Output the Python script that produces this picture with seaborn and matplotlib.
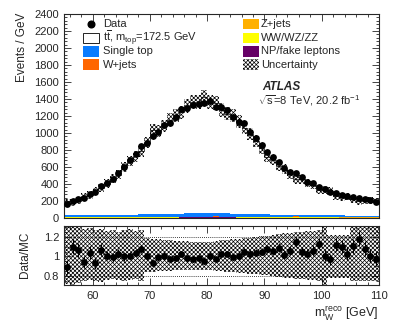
import numpy as np
import pandas as pd
import matplotlib
matplotlib.use("Agg")
import matplotlib.pyplot as plt
from matplotlib.patches import Rectangle
from matplotlib.ticker import MultipleLocator
import seaborn as sns

sns.set_style("ticks")
plt.rcParams['font.family'] = ['Liberation Sans', 'DejaVu Sans']
plt.rcParams['mathtext.fontset'] = 'custom'
plt.rcParams['mathtext.rm'] = 'Liberation Sans'
plt.rcParams['mathtext.it'] = 'Liberation Sans:italic'
plt.rcParams['mathtext.bf'] = 'Liberation Sans:bold'
plt.rcParams['hatch.linewidth'] = 0.5

HATCH = 'xxxxxxxx'

# binning: 1 GeV bins from 55 to 110 GeV
edges = np.arange(55, 111, 1)
centers = edges[:-1] + 0.5

# data (events / GeV)
data = [165, 200, 220, 239, 282, 302, 376, 408, 459, 526,
        596, 682, 753, 847, 886, 965, 1015, 1094, 1121, 1185,
        1279, 1290, 1329, 1341, 1350, 1375, 1309, 1310, 1265, 1192,
        1133, 1114, 1015, 937, 859, 780, 721, 662, 584, 545,
        526, 479, 427, 408, 368, 337, 309, 290, 270, 259,
        243, 231, 220, 212, 188]

# data / MC ratio
ratio = [0.89, 1.10, 1.07, 0.94, 1.04, 0.93, 1.07, 1.01, 0.99, 1.03,
         1.00, 1.01, 1.04, 1.08, 1.00, 0.93, 0.99, 1.01, 0.97, 0.98,
         1.03, 0.98, 0.97, 0.98, 0.95, 1.01, 0.97, 1.03, 1.03, 0.99,
         1.00, 1.05, 1.03, 1.04, 1.05, 1.08, 1.06, 1.09, 1.02, 1.06,
         1.15, 1.05, 1.03, 1.06, 1.13, 1.01, 0.97, 1.12, 1.10, 1.03,
         1.11, 1.18, 1.08, 1.01, 0.97]

# backgrounds (events / GeV)
single_top = [18, 19, 19, 20, 21, 21, 22, 23, 23, 24,
              25, 26, 26, 27, 28, 29, 30, 31, 32, 34,
              35, 36, 38, 40, 39, 41, 40, 38, 36, 35,
              34, 33, 31, 30, 28, 27, 26, 25, 24, 23,
              22, 22, 21, 20, 20, 19, 19, 18, 18, 17,
              17, 16, 16, 16, 15]
w_jets = [5, 5, 5, 5, 5, 5, 5, 6, 5, 6,
          6, 6, 6, 6, 6, 6, 6, 7, 6, 7,
          7, 7, 7, 7, 7, 7, 12, 7, 7, 7,
          7, 7, 6, 6, 6, 6, 6, 6, 6, 6,
          11, 6, 5, 5, 5, 5, 5, 5, 5, 5,
          5, 5, 5, 4, 4]
z_jets = [2, 2, 2, 2, 2, 2, 3, 3, 3, 3,
          3, 3, 3, 3, 3, 3, 3, 3, 3, 3,
          3, 3, 3, 3, 3, 3, 3, 3, 3, 3,
          3, 3, 3, 3, 3, 3, 2, 2, 2, 2,
          2, 2, 2, 2, 2, 2, 2, 2, 2, 2,
          2, 2, 2, 2, 2]
diboson = [1] * 55
fakes = [5, 5, 5, 5, 5, 5, 5, 5, 5, 5,
         5, 5, 5, 5, 5, 5, 5, 5, 5, 5,
         6, 6, 6, 6, 6, 6, 6, 6, 6, 6,
         5, 5, 5, 5, 5, 5, 5, 5, 5, 5,
         5, 5, 5, 5, 5, 5, 5, 5, 4, 4,
         4, 4, 4, 4, 4]

# uncertainty band, main panel (events / GeV)
unc_main = [40, 40, 42, 42, 44, 45, 48, 50, 52, 55,
            58, 60, 62, 65, 68, 70, 72, 74, 75, 76,
            78, 80, 80, 82, 82, 82, 80, 80, 78, 76,
            75, 74, 72, 70, 68, 65, 62, 60, 58, 56,
            54, 52, 50, 48, 47, 46, 45, 44, 43, 42,
            42, 41, 40, 40, 40]
# uncertainty band, ratio panel (relative up / down)
unc_up = [0.32, 0.33, 0.30, 0.28, 0.29, 0.27, 0.28, 0.26, 0.27, 0.25,
          0.27, 0.28, 0.26, 0.27, 0.19, 0.18, 0.18, 0.17, 0.17, 0.16,
          0.16, 0.16, 0.15, 0.15, 0.15, 0.15, 0.16, 0.17, 0.17, 0.18,
          0.18, 0.19, 0.19, 0.20, 0.21, 0.21, 0.22, 0.23, 0.24, 0.24,
          0.25, 0.25, 0.26, 0.26, 0.27, 0.33, 0.22, 0.22, 0.22, 0.22,
          0.30, 0.30, 0.31, 0.30, 0.30]
unc_down = [0.28, 0.29, 0.27, 0.25, 0.24, 0.25, 0.26, 0.24, 0.23, 0.24,
            0.25, 0.24, 0.23, 0.25, 0.16, 0.16, 0.15, 0.15, 0.15, 0.14,
            0.14, 0.14, 0.14, 0.14, 0.14, 0.14, 0.15, 0.15, 0.16, 0.16,
            0.17, 0.17, 0.18, 0.18, 0.19, 0.19, 0.20, 0.21, 0.22, 0.22,
            0.23, 0.23, 0.24, 0.24, 0.25, 0.30, 0.22, 0.22, 0.22, 0.22,
            0.25, 0.25, 0.25, 0.25, 0.25]

df = pd.DataFrame({'mW': centers, 'data': data, 'ratio': ratio})
df['mc'] = df['data'] / df['ratio']
df['err'] = np.sqrt(df['data'])
df['ratio_err'] = df['err'] / df['mc']

bkgs = [('NP/fake leptons', fakes, '#660066'),
        ('WW/WZ/ZZ', diboson, '#ffff00'),
        ('Z+jets', z_jets, '#ffb000'),
        ('W+jets', w_jets, '#ff6600'),
        ('Single top', single_top, '#0a7cff')]

fig = plt.figure(figsize=(3.99, 3.28), dpi=100)
ax = fig.add_axes([64/399, 1-218/328, 315/399, 204/328])
axr = fig.add_axes([64/399, 1-285/328, 315/399, 59/328], sharex=ax)

# stacked backgrounds
bottom = np.zeros(len(centers))
for name, vals, col in bkgs:
    vals = np.asarray(vals, dtype=float)
    ax.stairs(bottom + vals, edges, baseline=bottom, fill=True, color=col, lw=0)
    bottom = bottom + vals
# ttbar on top (white with outline)
mc = df['mc'].values
ax.stairs(mc, edges, baseline=bottom, fill=True, color='white', lw=0)
ax.stairs(mc, edges, color='black', lw=0.5)

# uncertainty band
ext = np.append(mc, mc[-1])
um = np.append(unc_main, unc_main[-1])
ax.fill_between(edges, ext - um, ext + um, step='post', facecolor='none',
                edgecolor='black', hatch=HATCH, lw=0)

# data
ax.errorbar(df['mW'], df['data'], yerr=df['err'], fmt='none', ecolor='black', elinewidth=0.8)
sns.scatterplot(data=df, x='mW', y='data', ax=ax, color='black', s=24, linewidth=0, zorder=5)

ax.set_xlim(55, 110)
ax.set_ylim(0, 2400)
ax.yaxis.set_major_locator(MultipleLocator(200))
ax.yaxis.set_minor_locator(MultipleLocator(40))
ax.set_xlabel('')
ax.set_ylabel('')
plt.setp(ax.get_xticklabels(), visible=False)

# ratio panel
up = np.append(unc_up, unc_up[-1])
dn = np.append(unc_down, unc_down[-1])
axr.fill_between(edges, 1 - dn, 1 + up, step='post', facecolor='none',
                 edgecolor='black', hatch=HATCH, lw=0)
for yv in (0.8, 1.2):
    axr.axhline(yv, color='black', lw=0.6, ls=(0, (1, 1.5)))
axr.errorbar(df['mW'], df['ratio'], yerr=df['ratio_err'], fmt='none', ecolor='black', elinewidth=0.8)
sns.scatterplot(data=df, x='mW', y='ratio', ax=axr, color='black', s=24, linewidth=0, zorder=5)
axr.set_ylim(0.71, 1.31)
axr.yaxis.set_major_locator(MultipleLocator(0.2))
axr.yaxis.set_minor_locator(MultipleLocator(0.05))
axr.set_yticks([0.8, 1.0, 1.2])
axr.set_yticklabels(['0.8', '1', '1.2'])
axr.xaxis.set_major_locator(MultipleLocator(10))
axr.xaxis.set_minor_locator(MultipleLocator(2))
axr.set_xlabel('')
axr.set_ylabel('')

for a in (ax, axr):
    a.tick_params(which='both', direction='in', top=True, right=True, labelsize=8, width=0.6)
    a.tick_params(which='major', length=5)
    a.tick_params(which='minor', length=2.5)
    for s in a.spines.values():
        s.set_linewidth(0.8)
        s.set_visible(True)
axr.tick_params(axis='x', pad=4)

# axis titles
fig.text(22/399, 1-13/328, 'Events / GeV', rotation=90, ha='center', va='top', fontsize=8.5)
fig.text(25/399, 1-255/328, 'Data/MC', rotation=90, ha='center', va='center', fontsize=8.5)
fig.text(378/399, 1-313/328, r'$\mathrm{m_{W}^{reco}}$ [GeV]', ha='right', va='center', fontsize=9)

# legend drawn by hand
def box(xp, yp, **kw):
    fig.patches.append(Rectangle((xp/399, 1-(yp+5)/328), 16/399, 10/328,
                                 transform=fig.transFigure, figure=fig, **kw))

rows = [24, 38, 51.5, 64.5]
fig.lines.append(plt.Line2D([91/399], [1-rows[0]/328], marker='o', color='black',
                            markersize=4.8, transform=fig.transFigure, figure=fig))
box(83, rows[1], facecolor='white', edgecolor='black', lw=0.6)
box(83, rows[2], facecolor='#0a7cff', lw=0)
box(83, rows[3], facecolor='#ff6600', lw=0)
left_labels = ['Data', r'$\mathrm{t}\overline{\mathrm{t}}$, m$_{\rm top}$=172.5 GeV', 'Single top', 'W+jets']
for yp, lab in zip(rows, left_labels):
    fig.text(103/399, 1-yp/328, lab, ha='left', va='center', fontsize=8)

box(243, rows[0], facecolor='#ffb000', lw=0)
box(243, rows[1], facecolor='#ffff00', lw=0)
box(243, rows[2], facecolor='#660066', lw=0)
box(243, rows[3], facecolor='none', edgecolor='black', hatch=HATCH, lw=0)
right_labels = ['Z+jets', 'WW/WZ/ZZ', 'NP/fake leptons', 'Uncertainty']
for yp, lab in zip(rows, right_labels):
    fig.text(261/399, 1-yp/328, lab, ha='left', va='center', fontsize=8)

fig.text(262/399, 1-87/328, 'ATLAS', ha='left', va='center', fontsize=8.5,
         fontweight='bold', fontstyle='italic')
fig.text(258/399, 1-100.5/328, r'$\sqrt{\mathrm{s}}$=8 TeV, 20.2 fb$^{-1}$',
         ha='left', va='center', fontsize=8)

fig.savefig('out.png', dpi=100)
